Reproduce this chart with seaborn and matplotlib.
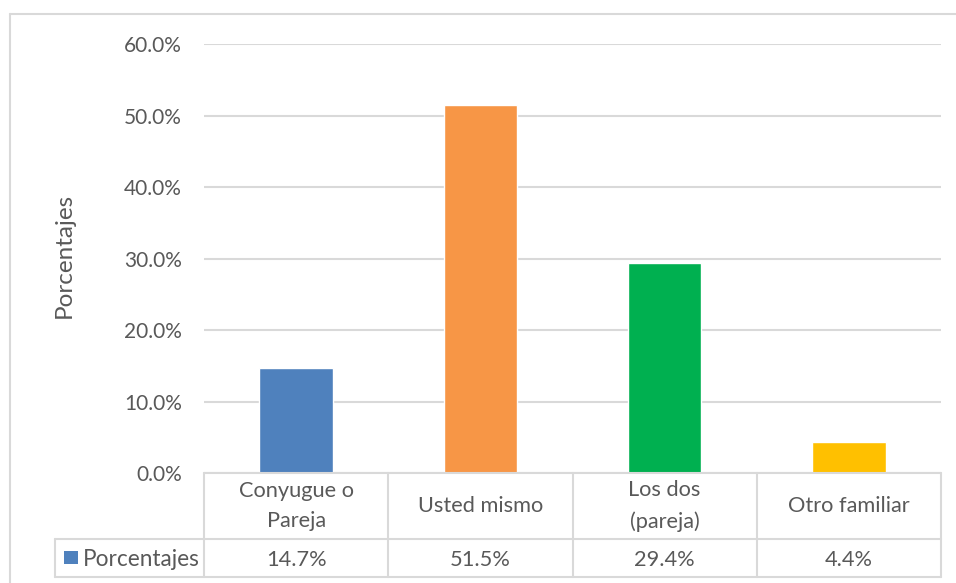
import matplotlib
matplotlib.use("Agg")
import matplotlib.pyplot as plt
import matplotlib.transforms as mtransforms
import seaborn as sns
import pandas as pd
from matplotlib.patches import Rectangle
from matplotlib.lines import Line2D

categories = ["Conyugue o Pareja", "Usted mismo", "Los dos (pareja)", "Otro familiar"]
header_labels = ["Conyugue o\nPareja", "Usted mismo", "Los dos\n(pareja)", "Otro familiar"]
values = [14.7, 51.5, 29.4, 4.4]
colors = ["#4F81BD", "#F79646", "#00B050", "#FFC000"]
series_name = "Porcentajes"
yticks = [0, 10, 20, 30, 40, 50, 60]

sns.set_theme(style="white")
plt.rcParams['font.family'] = ['Lato', 'DejaVu Sans']
TXT = "#595959"
GRID = "#D9D9D9"
FS = 15
FS_TAB = 15.7

W, H = 956, 583
fig = plt.figure(figsize=(W / 100, H / 100), dpi=100)
L, R, T, B = 204, 941, 44, 473
ax = fig.add_axes([L / W, 1 - B / H, (R - L) / W, (B - T) / H])

df = pd.DataFrame({"cat": categories, "val": values})
sns.barplot(data=df, x="cat", y="val", hue="cat", palette=colors, width=0.4,
            legend=False, ax=ax, saturation=1)
ax.set_xlim(-0.5, len(categories) - 0.5)
ax.set_ylim(0, 60)
ax.set_yticks(yticks)
ax.set_yticklabels([f"{t:.1f}%" for t in yticks], color=TXT, fontsize=FS)
ax.tick_params(axis="y", length=0, pad=15.8)
ax.set_xticks([])
ax.set_xlabel("")
ax.set_ylabel("")
for s in ax.spines.values():
    s.set_visible(False)
ax.yaxis.grid(True, color=GRID, linewidth=1.5)
ax.set_axisbelow(True)

# y label
fig.text(64 / W, 1 - 255 / H, "Porcentajes", rotation=90, ha="center", va="center",
         color=TXT, fontsize=17.5)

# outer border
fig.add_artist(Line2D([10 / W, 1.0], [1 - 14 / H, 1 - 14 / H], color=GRID, lw=1.5,
                      transform=fig.transFigure))
fig.add_artist(Line2D([10 / W, 10 / W], [1 - 14 / H, 0], color=GRID, lw=1.5,
                      transform=fig.transFigure))

# data table (axes coords in y, data coords in x)
trans = mtransforms.blended_transform_factory(ax.transData, ax.transAxes)
ah = B - T
y_top = 0.0
y_mid = -(539 - B) / ah
y_bot = -(577 - B) / ah
n = len(categories)
x_leg = -0.5 - (L - 55) / ((R - L) / n)

def hline(x0, x1, y):
    ax.add_line(Line2D([x0, x1], [y, y], color=GRID, lw=1.5, transform=trans, clip_on=False))

def vline(x, y0, y1):
    ax.add_line(Line2D([x, x], [y0, y1], color=GRID, lw=1.5, transform=trans, clip_on=False))

hline(-0.5, n - 0.5, y_top)
hline(x_leg, n - 0.5, y_mid)
hline(x_leg, n - 0.5, y_bot)
for i in range(n + 1):
    vline(i - 0.5, y_top, y_bot)
vline(x_leg, y_mid, y_bot)

for i, (lab, v) in enumerate(zip(header_labels, values)):
    ax.text(i, (y_top + y_mid) / 2, lab, transform=trans, ha="center", va="center",
            color=TXT, fontsize=FS_TAB, linespacing=1.65, clip_on=False)
    ax.text(i, -(560 - B) / ah, f"{v:.1f}%", transform=trans, ha="center", va="center",
            color=TXT, fontsize=FS_TAB, clip_on=False)

# legend key in table
fig.add_artist(Rectangle((64 / W, 1 - 564 / H), 14 / W, 13 / H, facecolor=colors[0],
                         edgecolor="none", transform=fig.transFigure))
fig.text(83 / W, 1 - 559 / H, series_name, ha="left", va="center", color=TXT, fontsize=16.3)

fig.savefig("out.png", dpi=100)
